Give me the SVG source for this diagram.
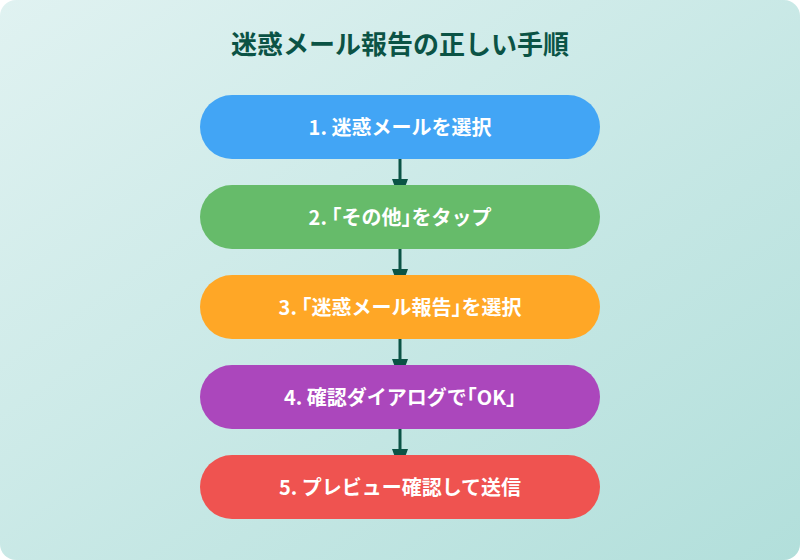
<svg xmlns="http://www.w3.org/2000/svg" width="800" height="560" viewBox="0 0 800 560">
<defs>
<linearGradient id="bg" x1="0" y1="0" x2="1" y2="1">
<stop offset="0" stop-color="#e0f2f1"/>
<stop offset="1" stop-color="#b2dfdb"/>
</linearGradient>
<style>
.lbl{font-family:"Noto Sans CJK JP","Noto Sans",sans-serif;font-weight:bold;font-size:20px;fill:#ffffff;text-anchor:middle;font-feature-settings:"halt"}
.title{font-family:"Noto Sans CJK JP","Noto Sans",sans-serif;font-weight:bold;font-size:26px;fill:#0b5345;text-anchor:middle}
.conn{stroke:#0b5345;stroke-width:3;fill:none}
.head{fill:#0b5345}
</style>
</defs>
<rect x="0" y="0" width="800" height="560" fill="#ffffff"/>
<rect x="0" y="0" width="800" height="560" rx="16" ry="16" fill="url(#bg)"/>
<text class="title" x="400" y="54">迷惑メール報告の正しい手順</text>
<g id="connectors">
<line class="conn" x1="400" y1="159" x2="400" y2="181"/>
<polygon class="head" points="392,179 408,179 400,201"/>
<line class="conn" x1="400" y1="249" x2="400" y2="271"/>
<polygon class="head" points="392,269 408,269 400,291"/>
<line class="conn" x1="400" y1="339" x2="400" y2="361"/>
<polygon class="head" points="392,359 408,359 400,381"/>
<line class="conn" x1="400" y1="429" x2="400" y2="451"/>
<polygon class="head" points="392,449 408,449 400,471"/>
</g>
<g id="node1"><rect x="200" y="95" width="400" height="64" rx="32" fill="#42a5f5"/><text class="lbl" x="400" y="134.5">1. 迷惑メールを選択</text></g>
<g id="node2"><rect x="200" y="185" width="400" height="64" rx="32" fill="#66bb6a"/><text class="lbl" x="400" y="224.5">2. 「その他」をタップ</text></g>
<g id="node3"><rect x="200" y="275" width="400" height="64" rx="32" fill="#ffa726"/><text class="lbl" x="400" y="314.5">3. 「迷惑メール報告」を選択</text></g>
<g id="node4"><rect x="200" y="365" width="400" height="64" rx="32" fill="#ab47bc"/><text class="lbl" x="400" y="404.5">4. 確認ダイアログで「OK」</text></g>
<g id="node5"><rect x="200" y="455" width="400" height="64" rx="32" fill="#ef5350"/><text class="lbl" x="400" y="494.5">5. プレビュー確認して送信</text></g>
</svg>
